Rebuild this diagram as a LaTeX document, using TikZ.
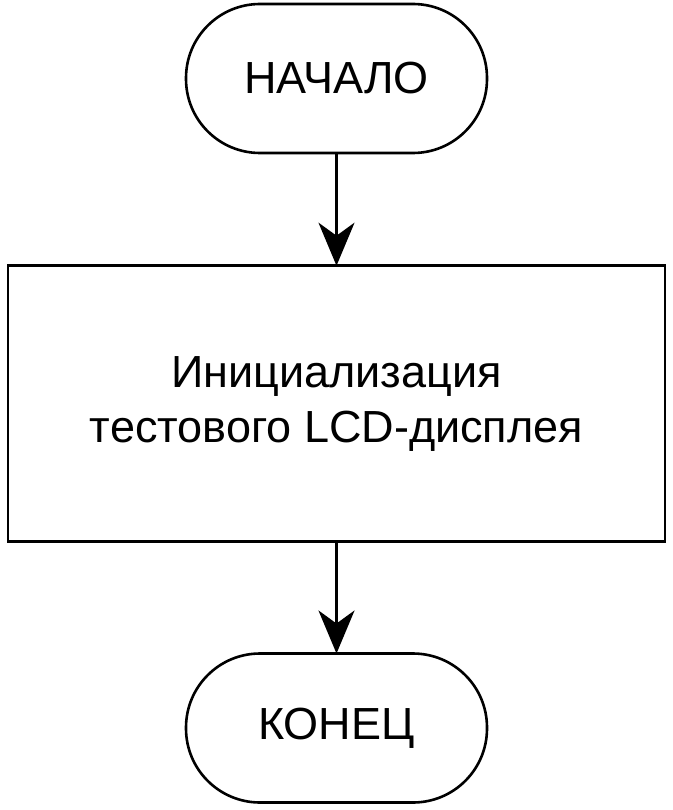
\documentclass[tikz,border=0pt]{standalone}
\usepackage{fontspec}
\setmainfont{Liberation Sans}
\usetikzlibrary{arrows.meta}
\begin{document}
\begin{tikzpicture}[x=1pt,y=-1pt,
  term/.style={draw, line width=2.6pt, rounded corners=74pt, minimum width=301pt, minimum height=149pt, outer sep=0pt, inner sep=0pt, font=\fontsize{45}{55}\selectfont},
  proc/.style={draw, line width=2.6pt, minimum width=657pt, minimum height=276pt, outer sep=0pt, inner sep=0pt, align=center, font=\fontsize{45}{55}\selectfont},
  arr/.style={line width=2.6pt, -{Stealth[length=43pt, width=36pt, inset=13pt]}}]
\useasboundingbox (0,0) rectangle (672,810);
\node[term] (start) at (336.5,78.5) {НАЧАЛО};
\node[proc] (init) at (336.5,403.7) {Инициализация\\тестового LCD-дисплея};
\node[term] (end) at (336.5,728) {КОНЕЦ};
\draw[arr] (start.south) -- (init.north);
\draw[arr] (init.south) -- (end.north);
\end{tikzpicture}
\end{document}
